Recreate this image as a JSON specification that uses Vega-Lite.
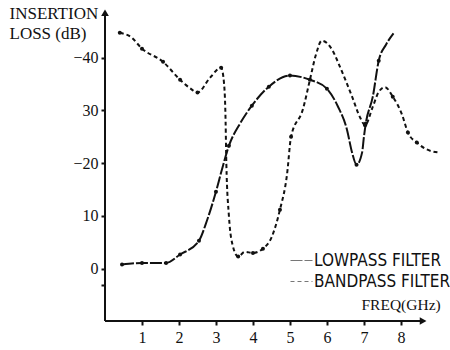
{
  "$schema": "https://vega.github.io/schema/vega-lite/v6.json",
  "width": 344,
  "height": 313,
  "autosize": {"type": "none"},
  "padding": {"left": 105, "top": 8, "right": 1, "bottom": 29},
  "background": "white",
  "config": {
    "view": {"stroke": null},
    "axis": {
      "grid": false, "domain": false,
      "labelFont": "Liberation Serif", "labelFontSize": 16, "labelColor": "#111",
      "tickColor": "#111", "tickWidth": 2, "tickSize": 4,
      "titleFont": "Liberation Serif", "titleFontSize": 16, "titleFontWeight": "normal", "titleColor": "#111"
    }
  },
  "datasets": {
    "curves": [
      {"filter": "LOWPASS FILTER", "f": 0.46, "loss": 0.8, "m": 1},
      {"filter": "LOWPASS FILTER", "f": 1.0, "loss": 1.1, "m": 1},
      {"filter": "LOWPASS FILTER", "f": 1.65, "loss": 1.1, "m": 1},
      {"filter": "LOWPASS FILTER", "f": 2.03, "loss": 2.7, "m": 1},
      {"filter": "LOWPASS FILTER", "f": 2.54, "loss": 5.3, "m": 1},
      {"filter": "LOWPASS FILTER", "f": 2.75, "loss": 9.0, "m": 0},
      {"filter": "LOWPASS FILTER", "f": 3.0, "loss": 14.6, "m": 1},
      {"filter": "LOWPASS FILTER", "f": 3.15, "loss": 18.5, "m": 0},
      {"filter": "LOWPASS FILTER", "f": 3.35, "loss": 23.3, "m": 1},
      {"filter": "LOWPASS FILTER", "f": 3.65, "loss": 27.5, "m": 0},
      {"filter": "LOWPASS FILTER", "f": 3.97, "loss": 30.9, "m": 1},
      {"filter": "LOWPASS FILTER", "f": 4.43, "loss": 34.5, "m": 1},
      {"filter": "LOWPASS FILTER", "f": 5.0, "loss": 36.6, "m": 1},
      {"filter": "LOWPASS FILTER", "f": 5.54, "loss": 35.8, "m": 0},
      {"filter": "LOWPASS FILTER", "f": 6.0, "loss": 34.1, "m": 1},
      {"filter": "LOWPASS FILTER", "f": 6.3, "loss": 30.7, "m": 0},
      {"filter": "LOWPASS FILTER", "f": 6.54, "loss": 26.4, "m": 0},
      {"filter": "LOWPASS FILTER", "f": 6.68, "loss": 22.0, "m": 0},
      {"filter": "LOWPASS FILTER", "f": 6.8, "loss": 19.7, "m": 1},
      {"filter": "LOWPASS FILTER", "f": 6.95, "loss": 22.0, "m": 0},
      {"filter": "LOWPASS FILTER", "f": 7.0, "loss": 25.0, "m": 0},
      {"filter": "LOWPASS FILTER", "f": 7.05, "loss": 27.5, "m": 1},
      {"filter": "LOWPASS FILTER", "f": 7.24, "loss": 32.6, "m": 0},
      {"filter": "LOWPASS FILTER", "f": 7.4, "loss": 39.4, "m": 1},
      {"filter": "LOWPASS FILTER", "f": 7.6, "loss": 42.5, "m": 0},
      {"filter": "LOWPASS FILTER", "f": 7.8, "loss": 44.6, "m": 0},
      {"filter": "BANDPASS FILTER", "f": 0.4, "loss": 44.7, "m": 1},
      {"filter": "BANDPASS FILTER", "f": 0.7, "loss": 43.9, "m": 0},
      {"filter": "BANDPASS FILTER", "f": 1.0, "loss": 41.7, "m": 1},
      {"filter": "BANDPASS FILTER", "f": 1.57, "loss": 39.2, "m": 1},
      {"filter": "BANDPASS FILTER", "f": 2.03, "loss": 35.8, "m": 1},
      {"filter": "BANDPASS FILTER", "f": 2.3, "loss": 34.2, "m": 0},
      {"filter": "BANDPASS FILTER", "f": 2.5, "loss": 33.4, "m": 1},
      {"filter": "BANDPASS FILTER", "f": 2.84, "loss": 36.2, "m": 0},
      {"filter": "BANDPASS FILTER", "f": 3.14, "loss": 38.1, "m": 1},
      {"filter": "BANDPASS FILTER", "f": 3.22, "loss": 35.0, "m": 0},
      {"filter": "BANDPASS FILTER", "f": 3.26, "loss": 28.0, "m": 0},
      {"filter": "BANDPASS FILTER", "f": 3.28, "loss": 20.0, "m": 0},
      {"filter": "BANDPASS FILTER", "f": 3.35, "loss": 10.0, "m": 0},
      {"filter": "BANDPASS FILTER", "f": 3.46, "loss": 4.2, "m": 0},
      {"filter": "BANDPASS FILTER", "f": 3.6, "loss": 2.3, "m": 1},
      {"filter": "BANDPASS FILTER", "f": 3.78, "loss": 3.2, "m": 0},
      {"filter": "BANDPASS FILTER", "f": 4.0, "loss": 3.0, "m": 1},
      {"filter": "BANDPASS FILTER", "f": 4.27, "loss": 3.8, "m": 1},
      {"filter": "BANDPASS FILTER", "f": 4.5, "loss": 5.9, "m": 0},
      {"filter": "BANDPASS FILTER", "f": 4.73, "loss": 11.2, "m": 1},
      {"filter": "BANDPASS FILTER", "f": 4.92, "loss": 17.8, "m": 0},
      {"filter": "BANDPASS FILTER", "f": 5.03, "loss": 25.0, "m": 1},
      {"filter": "BANDPASS FILTER", "f": 5.35, "loss": 30.2, "m": 0},
      {"filter": "BANDPASS FILTER", "f": 5.54, "loss": 35.8, "m": 1},
      {"filter": "BANDPASS FILTER", "f": 5.7, "loss": 40.5, "m": 0},
      {"filter": "BANDPASS FILTER", "f": 5.86, "loss": 43.2, "m": 0},
      {"filter": "BANDPASS FILTER", "f": 6.14, "loss": 41.5, "m": 0},
      {"filter": "BANDPASS FILTER", "f": 6.35, "loss": 38.3, "m": 0},
      {"filter": "BANDPASS FILTER", "f": 6.68, "loss": 32.6, "m": 0},
      {"filter": "BANDPASS FILTER", "f": 6.9, "loss": 28.6, "m": 0},
      {"filter": "BANDPASS FILTER", "f": 7.03, "loss": 27.2, "m": 1},
      {"filter": "BANDPASS FILTER", "f": 7.24, "loss": 30.7, "m": 0},
      {"filter": "BANDPASS FILTER", "f": 7.4, "loss": 33.5, "m": 0},
      {"filter": "BANDPASS FILTER", "f": 7.57, "loss": 34.4, "m": 0},
      {"filter": "BANDPASS FILTER", "f": 7.78, "loss": 32.6, "m": 1},
      {"filter": "BANDPASS FILTER", "f": 8.03, "loss": 29.2, "m": 0},
      {"filter": "BANDPASS FILTER", "f": 8.19, "loss": 25.8, "m": 1},
      {"filter": "BANDPASS FILTER", "f": 8.43, "loss": 23.9, "m": 1},
      {"filter": "BANDPASS FILTER", "f": 8.7, "loss": 22.6, "m": 0},
      {"filter": "BANDPASS FILTER", "f": 9.05, "loss": 22.0, "m": 0}
    ],
    "axes": [
      {"axis": "x", "f0": 0, "f1": 8.55, "l0": -9.9, "l1": -9.9, "tipf": 8.6, "tipl": -9.9, "shape": "triangle-right"},
      {"axis": "y", "f0": 0, "f1": 0, "l0": -9.9, "l1": 48.3, "tipf": 0, "tipl": 48.5, "shape": "triangle-up"}
    ]
  },
  "layer": [
    {
      "data": {"name": "curves"},
      "mark": {"type": "line", "interpolate": "monotone", "strokeWidth": 2, "color": "#111"},
      "encoding": {
        "x": {
          "field": "f", "type": "quantitative",
          "scale": {"domain": [0, 9.3], "nice": false, "zero": false},
          "axis": {
            "values": [1, 2, 3, 4, 5, 6, 7, 8], "labelPadding": 4,
            "title": "FREQ(GHz)", "titleX": 256, "titleY": -12, "titleFontSize": 15.5,
            "titleAlign": "left", "titleAnchor": "start", "titleBaseline": "alphabetic"
          }
        },
        "y": {
          "field": "loss", "type": "quantitative",
          "scale": {"domain": [-9.9, 49.4], "nice": false, "zero": false},
          "axis": {
            "values": [-3, 0, 10, 20, 30, 40], "labelPadding": 3,
            "labelExpr": "datum.value == -3 ? '' : (datum.value == 40 || datum.value == 20) ? '−' + datum.label : datum.label",
            "title": ["INSERTION", "LOSS (dB)"], "titleAngle": 0, "titleFontSize": 17,
            "titleAlign": "left", "titleBaseline": "alphabetic",
            "titleX": -96, "titleY": 10, "titleLineHeight": 20
          }
        },
        "strokeDash": {
          "field": "filter", "type": "nominal",
          "scale": {"domain": ["LOWPASS FILTER", "BANDPASS FILTER"], "range": [[12, 2], [4, 3]]},
          "legend": {
            "orient": "none", "legendX": 185, "legendY": 241, "title": null,
            "symbolType": "stroke", "symbolSize": 484, "symbolStrokeWidth": 1,
            "symbolStrokeColor": "#777",
            "labelFont": "DejaVu Sans Condensed, Liberation Sans Narrow, sans-serif",
            "labelFontSize": 17, "labelColor": "#111", "rowPadding": 1, "labelOffset": 1
          }
        }
      }
    },
    {
      "data": {"name": "curves"},
      "transform": [{"filter": "datum.m == 1"}],
      "mark": {"type": "point", "filled": true, "size": 16, "color": "#111", "opacity": 1},
      "encoding": {
        "x": {"field": "f", "type": "quantitative"},
        "y": {"field": "loss", "type": "quantitative"}
      }
    },
    {
      "data": {"name": "axes"},
      "mark": {"type": "rule", "strokeWidth": 2, "color": "#111"},
      "encoding": {
        "x": {"field": "f0", "type": "quantitative"},
        "x2": {"field": "f1"},
        "y": {"field": "l0", "type": "quantitative"},
        "y2": {"field": "l1"}
      }
    },
    {
      "data": {"name": "axes"},
      "mark": {"type": "point", "filled": true, "size": 60, "color": "#111", "opacity": 1},
      "encoding": {
        "x": {"field": "tipf", "type": "quantitative"},
        "y": {"field": "tipl", "type": "quantitative"},
        "shape": {"field": "shape", "type": "nominal", "scale": null}
      }
    }
  ]
}
